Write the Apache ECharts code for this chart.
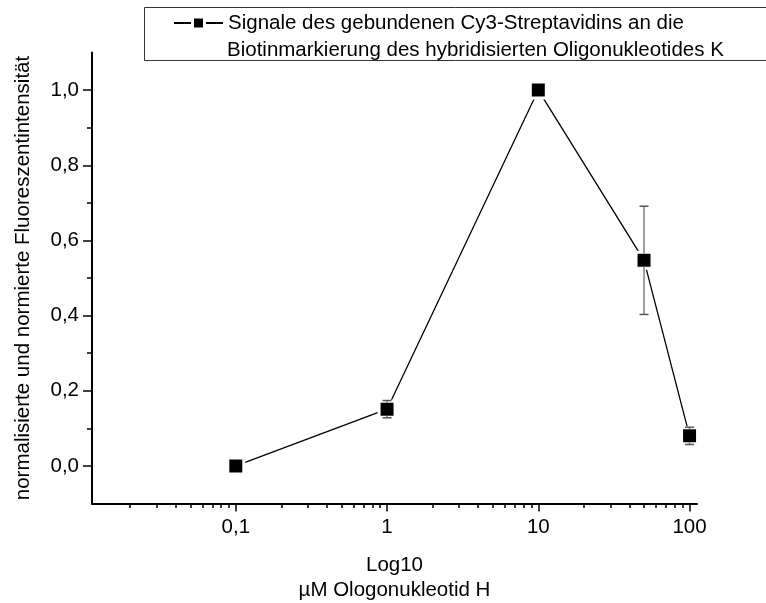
<!DOCTYPE html>
<html>
<head>
<meta charset="utf-8">
<script src="https://cdn.jsdelivr.net/npm/echarts@6/dist/echarts.min.js"></script>
<style>
  html, body { margin: 0; padding: 0; background: #fff; }
  #chart { width: 766px; height: 603px; }
</style>
</head>
<body>
<div id="chart"></div>
<script>
// ---- data ----
const seriesName = 'Signale des gebundenen Cy3-Streptavidins an die';
const legendLine2 = 'Biotinmarkierung des hybridisierten Oligonukleotides K';
const xValues = [0.1, 1, 10, 50, 100];
const yValues = [0.0, 0.151, 1.0, 0.547, 0.08];
const yErrors = [0, 0.023, 0, 0.144, 0.023];
const xTickValues = [0.1, 1, 10, 100];
const xMinorTicks = [0.02, 0.03, 0.04, 0.05, 0.06, 0.07, 0.08, 0.09,
                     0.2, 0.3, 0.4, 0.5, 0.6, 0.7, 0.8, 0.9,
                     2, 3, 4, 5, 6, 7, 8, 9,
                     20, 30, 40, 50, 60, 70, 80, 90];
const yTickValues = [0, 0.2, 0.4, 0.6, 0.8, 1.0];
const yMinorTicks = [0.1, 0.3, 0.5, 0.7, 0.9];
const xMin = 0.0112, xMax = 112;
const yMin = -0.1, yMax = 1.1;
const xTitle = 'Log10\nµM Ologonukleotid H';
const yTitle = 'normalisierte und normierte Fluoreszentintensität';

// ---- chart ----
const FONT = '"Liberation Sans", Arial, sans-serif';
const FS = 20.5;
const chart = echarts.init(document.getElementById('chart'), null, { renderer: 'canvas' });

const lineData = xValues.map((x, i) => [x, yValues[i]]);
const errData = xValues.map((x, i) => [x, yValues[i], yErrors[i]]);
const HALF = 6.5; // half of visible black square

const option = {
  animation: false,
  backgroundColor: '#fff',
  grid: { left: 92, right: 69, top: 52.5, bottom: 99.5, containLabel: false, outerBoundsMode: 'none' },
  legend: {
    data: [seriesName],
    left: 173, top: 9.5, padding: 0,
    itemWidth: 49, itemHeight: 15,
    itemStyle: { borderColor: '#fff', borderWidth: 3 },
    textStyle: { fontFamily: FONT, fontSize: FS, color: '#000', lineHeight: 27 }
  },
  graphic: [
    { type: 'rect', shape: { x: 144.5, y: 7.5, width: 660, height: 53 },
      style: { fill: 'none', stroke: '#333', lineWidth: 1 }, z: 10 },
    { type: 'text', left: 227, top: 39.5,
      style: { text: legendLine2, font: FS + 'px ' + FONT, fill: '#000' }, z: 10 }
  ],
  xAxis: [
    {
      type: 'log', logBase: 10, min: xMin, max: xMax, position: 'bottom',
      name: xTitle, nameLocation: 'middle', nameGap: 49,
      nameTextStyle: { fontFamily: FONT, fontSize: FS, color: '#000', lineHeight: 25, verticalAlign: 'top' },
      axisLine: { show: true, onZero: false, lineStyle: { color: '#000', width: 2 } },
      axisTick: { show: true, inside: false, length: 8, lineStyle: { color: '#000', width: 1.5 }, customValues: xTickValues },
      axisLabel: { show: true, margin: 13, fontFamily: FONT, fontSize: FS, color: '#000', customValues: xTickValues,
        formatter: v => String(v).replace('.', ',') },
      splitLine: { show: false }, minorTick: { show: false }
    },
    {
      type: 'log', logBase: 10, min: xMin, max: xMax, position: 'bottom',
      axisLine: { show: false, onZero: false },
      axisTick: { show: true, inside: false, length: 4.5, lineStyle: { color: '#000', width: 1.5 }, customValues: xMinorTicks },
      axisLabel: { show: false }, splitLine: { show: false }
    }
  ],
  yAxis: [
    {
      type: 'value', min: yMin, max: yMax, position: 'left',
      name: yTitle, nameLocation: 'middle', nameGap: 58,
      nameTextStyle: { fontFamily: FONT, fontSize: FS, color: '#000' },
      axisLine: { show: true, onZero: false, lineStyle: { color: '#000', width: 2 } },
      axisTick: { show: true, inside: false, length: 9, lineStyle: { color: '#000', width: 1.5 }, customValues: yTickValues },
      axisLabel: { show: true, margin: 13, fontFamily: FONT, fontSize: FS, color: '#000', customValues: yTickValues,
        formatter: v => v.toFixed(1).replace('.', ',') },
      splitLine: { show: false }
    },
    {
      type: 'value', min: yMin, max: yMax, position: 'left',
      axisLine: { show: false, onZero: false },
      axisTick: { show: true, inside: false, length: 5, lineStyle: { color: '#000', width: 1.5 }, customValues: yMinorTicks },
      axisLabel: { show: false }, splitLine: { show: false }
    }
  ],
  series: [
    {
      name: seriesName, type: 'line', xAxisIndex: 0, yAxisIndex: 0,
      data: lineData, symbol: 'rect', symbolSize: 16, showSymbol: true,
      lineStyle: { color: '#000', width: 1.3 },
      itemStyle: { color: '#000', borderColor: '#fff', borderWidth: 3 },
      z: 2, emphasis: { disabled: true }
    },
    {
      name: 'err', type: 'custom', xAxisIndex: 0, yAxisIndex: 0, data: errData, z: 3,
      renderItem: function (params, api) {
        const x = api.value(0), y = api.value(1), e = api.value(2);
        if (!e) return null;
        const c = api.coord([x, y]);
        const hi = api.coord([x, y + e]);
        const lo = api.coord([x, y - e]);
        const children = [];
        const stroke = { stroke: '#808080', lineWidth: 1.5 };
        if (c[1] - HALF - hi[1] > 0.5) children.push({ type: 'line', shape: { x1: c[0], y1: hi[1], x2: c[0], y2: c[1] - HALF }, style: stroke });
        if (lo[1] - (c[1] + HALF) > 0.5) children.push({ type: 'line', shape: { x1: c[0], y1: c[1] + HALF, x2: c[0], y2: lo[1] }, style: stroke });
        children.push({ type: 'line', shape: { x1: c[0] - 4.5, y1: hi[1], x2: c[0] + 4.5, y2: hi[1] }, style: { stroke: '#555', lineWidth: 1.5 } });
        children.push({ type: 'line', shape: { x1: c[0] - 4.5, y1: lo[1], x2: c[0] + 4.5, y2: lo[1] }, style: { stroke: '#555', lineWidth: 1.5 } });
        return { type: 'group', children: children };
      }
    }
  ]
};
chart.setOption(option);
</script>
</body>
</html>
